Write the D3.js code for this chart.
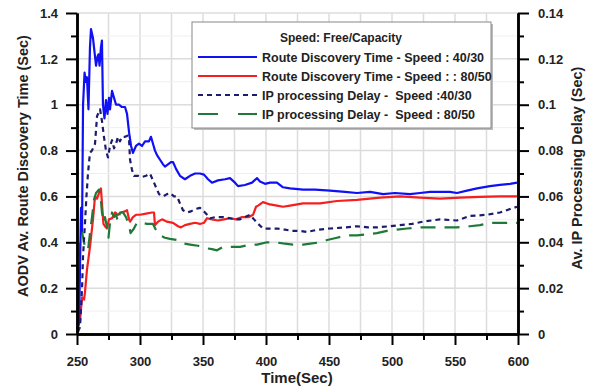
<!DOCTYPE html>
<html><head><meta charset="utf-8">
<script src="https://cdn.jsdelivr.net/npm/d3@7"></script>
<style>
html,body{margin:0;padding:0;background:#fff;}
svg{display:block;font-family:Arial,"Liberation Sans",sans-serif;}
text{white-space:pre;}
</style></head><body>
<svg id="c" width="590" height="388"></svg>
<script>
// ---- data (time in seconds) ----
const blueT = [250,251.6,253.2,254,254.8,256,257.1,257.9,259.1,260.3,261.1,262.7,263.5,265.1,266.3,267.1,267.9,269,269.8,270.6,271.8,273,274.2,275.4,276.2,277.8,279.4,281,283.3,285.7,288.1,289.7,291.3,292.9,294.4,296.8,299.2,301.6,304,307.1,308.7,310.3,311.9,313.5,315.9,318.3,319.8,322.2,324.6,326.2,328.6,331.7,335.7,339.7,343.7,347.6,350.8,354,357.1,361.9,367.5,371.4,375.4,377.8,383.3,388.9,392.9,395.2,399.2,403.2,408.7,413.5,419.1,429.4,438.9,450.8,462.7,472.2,482.6,492.9,502.4,514.3,522.2,530.2,538.1,546,551.6,559.5,567.5,577.8,585.7,593.7,599.2];
const blueV = [0.02,0.05,0.55,0.45,1.0,1.14,1.1,1.12,0.98,1.25,1.33,1.29,1.25,1.17,1.21,1.22,1.17,1.25,1.28,1.0,0.94,1.02,0.96,1.03,0.98,1.06,1.03,1.0,1.0,0.99,0.99,0.96,0.88,0.82,0.79,0.82,0.83,0.82,0.84,0.84,0.86,0.83,0.80,0.78,0.76,0.74,0.73,0.74,0.75,0.75,0.72,0.69,0.675,0.69,0.70,0.70,0.695,0.675,0.66,0.67,0.675,0.68,0.66,0.645,0.65,0.66,0.68,0.665,0.655,0.66,0.66,0.64,0.635,0.63,0.63,0.625,0.62,0.615,0.62,0.61,0.615,0.61,0.615,0.62,0.62,0.62,0.615,0.625,0.635,0.645,0.65,0.655,0.66];

const redT = [250.8,252.4,254,255.6,256.3,257.9,260.3,262.7,264.3,265.9,267.5,269,270.2,271,272.2,273.8,275.4,277.8,280.2,282.5,284.9,288.1,289.7,291.3,292.1,294.4,296.8,300,304.8,309.5,311.1,311.9,314.3,317.5,321.4,326.2,330.2,332.5,335.7,339.7,343.7,347.6,350.8,353.2,357.1,361.9,366.7,371.4,376.2,381,386.5,389.7,392.1,393.7,397.6,403.2,408.7,413.5,419.1,429.4,442.9,456.3,472.2,490.5,506.3,522.2,538.1,554,569.8,585.7,599.2];
const redV = [0.03,0.06,0.16,0.15,0.18,0.28,0.38,0.50,0.60,0.59,0.615,0.635,0.54,0.48,0.47,0.46,0.50,0.505,0.53,0.52,0.53,0.535,0.54,0.50,0.49,0.51,0.52,0.52,0.525,0.53,0.53,0.475,0.49,0.50,0.49,0.485,0.47,0.465,0.475,0.48,0.485,0.48,0.485,0.505,0.50,0.495,0.50,0.505,0.50,0.51,0.51,0.52,0.555,0.56,0.575,0.565,0.56,0.555,0.56,0.57,0.57,0.58,0.585,0.595,0.60,0.595,0.59,0.595,0.598,0.60,0.60];

const navyT = [250.8,252.4,254,254.8,256.3,257.5,258.7,260.3,261.9,264.3,265.9,268.3,269.8,271.4,273,274.6,276.2,277.8,279.4,281,282.5,284.1,285.7,288.1,290.1,291.3,292.1,293.7,295.2,298.4,301.6,304.8,307.9,310.3,312.7,315.1,318.3,321.4,323.8,327,329.4,331.7,334.1,337.3,340.5,343.7,347.6,351.6,355.6,360.3,365.9,371.4,376.2,379.4,383.3,387.3,390.5,392.9,397.6,403.2,408.7,415.1,420.6,427,432.5,441.3,450.8,462.7,472.2,480.9,488,498.4,506.3,515.8,524.6,538.1,551.6,561.9,575.4,585.7,593.7,599.2];
const navyV = [0.001,0.003,0.020,0.034,0.048,0.060,0.070,0.079,0.080,0.083,0.095,0.098,0.093,0.086,0.080,0.077,0.082,0.0845,0.081,0.083,0.086,0.084,0.086,0.086,0.0865,0.085,0.076,0.0715,0.069,0.069,0.0685,0.069,0.070,0.067,0.064,0.061,0.060,0.061,0.0615,0.060,0.060,0.057,0.054,0.053,0.0535,0.0545,0.055,0.053,0.0505,0.051,0.051,0.0505,0.050,0.050,0.051,0.052,0.050,0.0485,0.046,0.046,0.046,0.0455,0.045,0.045,0.0445,0.0455,0.046,0.0465,0.047,0.0465,0.0465,0.047,0.0475,0.048,0.049,0.050,0.0495,0.0515,0.052,0.053,0.0545,0.0555];

const greenT = [250,250.8,251.6,252.4,254,256.3,258.7,260.3,261.9,263.5,265.1,267.5,268.7,269.8,271.4,272.2,273.8,275,276.2,277.8,279.4,281,282.5,284.1,286.5,288.9,291.3,292.5,295.2,297.6,301.6,305.6,310.3,313.5,315.9,319.8,323.8,329.4,334.1,339.7,346,351.6,357.1,361.1,365.9,373.8,379.4,387.3,392.9,400.8,407.1,413.5,421.4,429.4,436.5,442.9,448.5,456.3,464.3,472.2,480.2,488,496,503.9,511.9,522.2,534.1,543.6,551.6,561.9,569.8,577.8,589.7,599.2];
const greenV = [0.002,0.003,0.015,0.041,0.0445,0.038,0.0365,0.044,0.051,0.0585,0.0615,0.063,0.060,0.053,0.0485,0.051,0.0465,0.042,0.0485,0.053,0.051,0.052,0.049,0.053,0.053,0.051,0.0475,0.044,0.046,0.0485,0.0485,0.048,0.048,0.0445,0.043,0.042,0.0415,0.041,0.0395,0.039,0.0385,0.0375,0.037,0.0365,0.038,0.038,0.038,0.039,0.039,0.040,0.040,0.0395,0.039,0.039,0.0395,0.040,0.041,0.042,0.043,0.043,0.0435,0.044,0.045,0.0455,0.046,0.0465,0.0465,0.0465,0.0465,0.047,0.0475,0.0485,0.0485,0.0485];

const xTicks = [250,300,350,400,450,500,550,600];
const yLeftTicks = [0,0.2,0.4,0.6,0.8,1,1.2,1.4];
const yRightTicks = [0,0.02,0.04,0.06,0.08,0.1,0.12,0.14];
const legendTitle = "Speed: Free/Capacity";
const legendLabels = ["Route Discovery Time - Speed : 40/30","Route Discovery Time - Speed : : 80/50","IP processing Delay -  Speed :40/30","IP processing Delay -  Speed : 80/50"];

// ---- drawing ----
const svg = d3.select("#c");
const L = 77, R = 518, T = 13, B = 334;
const x = d3.scaleLinear().domain([250,600]).range([L,R]);
const yL = d3.scaleLinear().domain([0,1.4]).range([B,T]);
const yR = d3.scaleLinear().domain([0,0.14]).range([B,T]);

// grid
const g = svg.append("g");
d3.range(250,601,25).forEach(t=>{
  g.append("line").attr("x1",x(t)).attr("x2",x(t)).attr("y1",T).attr("y2",B)
   .attr("stroke","#dcdcdc").attr("stroke-width",1.5);
});
d3.range(0,15).map(i=>i/10).forEach(v=>{
  const major = Math.round(v*10)%2===0;
  g.append("line").attr("x1",L).attr("x2",R).attr("y1",yL(v)).attr("y2",yL(v))
   .attr("stroke", major?"#dcdcdc":"#efefef").attr("stroke-width",major?1.5:1);
});

// series
const series = [
  {t:blueT, v:blueV, y:yL, color:"#1010f5", dash:null},
  {t:redT, v:redV, y:yL, color:"#f51f1f", dash:null},
  {t:navyT, v:navyV, y:yR, color:"#1c1c6e", dash:"5,4"},
  {t:greenT, v:greenV, y:yR, color:"#1f7a3a", dash:"15,9"}
];
const draw = [1,3,2,0];
draw.forEach(i=>{
  const s = series[i];
  const pts = s.t.map((t,k)=>[t,s.v[k]]);
  const line = d3.line().x(d=>x(d[0])).y(d=>s.y(d[1])).curve(d3.curveLinear);
  svg.append("path").attr("d",line(pts)).attr("fill","none")
    .attr("stroke",s.color).attr("stroke-width",2.2)
    .attr("stroke-dasharray",s.dash).attr("stroke-linejoin","round");
});

// axes
function styleAxis(sel){
  sel.select(".domain").attr("stroke","#000").attr("stroke-width",2.5);
  sel.selectAll(".tick line").attr("stroke","#000").attr("stroke-width",2);
  sel.selectAll("text").attr("font-size","13px").attr("font-weight","bold").attr("fill","#222")
    .attr("font-family","Arial, 'Liberation Sans', sans-serif");
}
const fmt = d => String(+d.toFixed(2));

const ax = svg.append("g").attr("transform",`translate(0,${B})`)
  .call(d3.axisBottom(x).tickValues(d3.range(275,600,50)).tickSize(6).tickFormat("").tickSizeOuter(0));
styleAxis(ax);
const axM = svg.append("g").attr("transform",`translate(0,${B})`)
  .call(d3.axisBottom(x).tickValues(xTicks).tickSize(11).tickPadding(12).tickFormat(fmt).tickSizeOuter(0));
styleAxis(axM);

const ayl = svg.append("g").attr("transform",`translate(${L},0)`)
  .call(d3.axisLeft(yL).tickValues([0.1,0.3,0.5,0.7,0.9,1.1,1.3]).tickSize(6).tickFormat("").tickSizeOuter(0));
styleAxis(ayl);
const aylM = svg.append("g").attr("transform",`translate(${L},0)`)
  .call(d3.axisLeft(yL).tickValues(yLeftTicks).tickSize(11).tickPadding(8).tickFormat(fmt).tickSizeOuter(0));
styleAxis(aylM);

const ayr = svg.append("g").attr("transform",`translate(${R},0)`)
  .call(d3.axisRight(yR).tickValues([0.01,0.03,0.05,0.07,0.09,0.11,0.13]).tickSize(6).tickFormat("").tickSizeOuter(0));
styleAxis(ayr);
const ayrM = svg.append("g").attr("transform",`translate(${R},0)`)
  .call(d3.axisRight(yR).tickValues(yRightTicks).tickSize(11).tickPadding(9).tickFormat(fmt).tickSizeOuter(0));
styleAxis(ayrM);

// titles
svg.append("text").attr("x",297).attr("y",383).attr("text-anchor","middle")
  .attr("font-size","15px").attr("font-weight","bold").attr("fill","#222").text("Time(Sec)");
svg.append("text").attr("transform","translate(28,166) rotate(-90)").attr("text-anchor","middle")
  .attr("font-size","14.5px").attr("font-weight","bold").attr("fill","#222")
  .text("AODV Av. Route Discovery Time (Sec)");
svg.append("text").attr("transform","translate(582,168) rotate(-90)").attr("text-anchor","middle")
  .attr("font-size","14.5px").attr("font-weight","bold").attr("fill","#222")
  .text("Av. IP Processing Delay (Sec)");

// legend
const lg = svg.append("g");
lg.append("rect").attr("x",194).attr("y",24).attr("width",299).attr("height",106).attr("fill","#bbb");
lg.append("rect").attr("x",192).attr("y",22).attr("width",299).attr("height",106)
  .attr("fill","#fff").attr("stroke","#888").attr("stroke-width",1);
lg.append("text").attr("x",341).attr("y",42).attr("text-anchor","middle")
  .attr("font-size","12px").attr("font-weight","bold").attr("fill","#222").text(legendTitle);
const ly = [57,76,95,114];
series.forEach((s,i)=>{
  lg.append("line").attr("x1",198).attr("x2",257).attr("y1",ly[i]).attr("y2",ly[i])
    .attr("stroke",s.color).attr("stroke-width",2.2)
    .attr("stroke-dasharray", i===3 ? "20,20" : s.dash);
  lg.append("text").attr("x",262).attr("y",ly[i]+4.5).attr("font-size","12.5px")
    .attr("font-weight","bold").attr("fill","#222").text(legendLabels[i]);
});
</script>
</body></html>
